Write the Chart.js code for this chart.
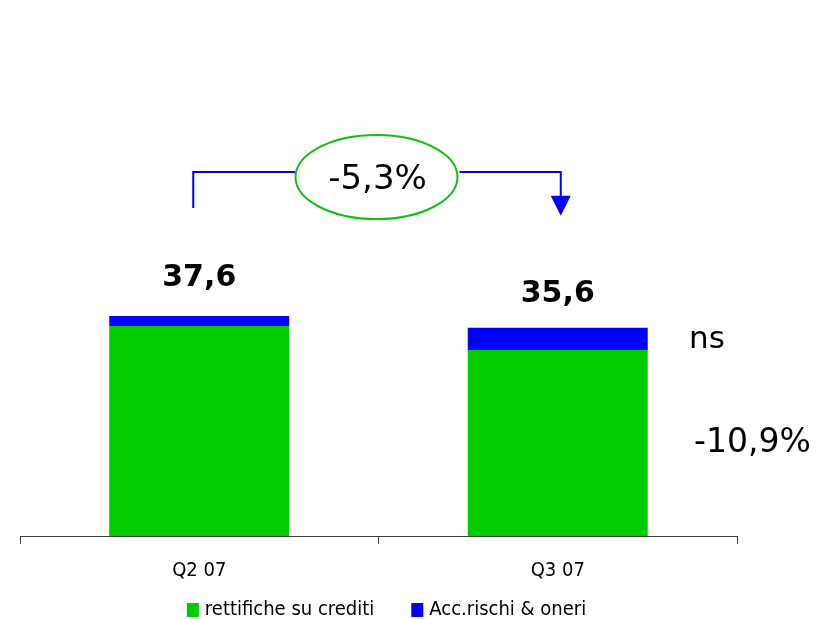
<!DOCTYPE html>
<html>
<head>
<meta charset="utf-8">
<script src="https://cdn.jsdelivr.net/npm/chart.js@4/dist/chart.umd.min.js"></script>
<style>
  html, body { margin: 0; padding: 0; background: #ffffff; }
  #wrap { width: 829px; height: 619px; }
</style>
</head>
<body>
<div id="wrap"><canvas id="c" width="829" height="619"></canvas></div>
<script>
const categories = ['Q2 07', 'Q3 07'];
const rettifiche = [35.9, 31.8];
const accRischi = [1.7, 3.8];
const totals = ['37,6', '35,6'];
const seriesNames = ['rettifiche su crediti', 'Acc.rischi & oneri'];
const changeTotal = '-5,3%';
const changeAcc = 'ns';
const changeRett = '-10,9%';

const GREEN = '#00cc00';
const BLUE = '#0000ff';
const COND = '"DejaVu Sans Condensed", "DejaVu Sans"';

const annot = {
  id: 'annot',
  afterDatasetsDraw(chart) {
    const ctx = chart.ctx;
    const xs = chart.scales.x, ys = chart.scales.y;
    const x0 = xs.getPixelForValue(0), x1 = xs.getPixelForValue(1);
    const top0 = ys.getPixelForValue(rettifiche[0] + accRischi[0]);
    const top1 = ys.getPixelForValue(rettifiche[1] + accRischi[1]);
    const g1 = ys.getPixelForValue(rettifiche[1]);
    const base = ys.getPixelForValue(0);
    ctx.save();
    ctx.fillStyle = '#000';
    ctx.textAlign = 'center';
    ctx.textBaseline = 'alphabetic';
    ctx.font = 'bold 30px "DejaVu Sans"';
    ctx.fillText(totals[0], x0, top0 - 30);
    ctx.fillText(totals[1], x1, top1 - 26);

    ctx.textAlign = 'left';
    ctx.textBaseline = 'middle';
    ctx.font = '31px "DejaVu Sans"';
    ctx.fillText(changeAcc, chart.chartArea.right - 48, (top1 + g1) / 2 + 1);
    ctx.font = '33px "DejaVu Sans"';
    ctx.fillText(changeRett, chart.chartArea.right - 43, (g1 + base) / 2);

    // bracket with arrow
    const yLine = top0 - 144;
    const mid = (x0 + x1) / 2;
    const ecx = mid - 2, ecy = yLine + 5, erx = 81, ery = 42;
    ctx.strokeStyle = BLUE;
    ctx.lineWidth = 2;
    ctx.beginPath();
    ctx.moveTo(x0 - 6, top0 - 108);
    ctx.lineTo(x0 - 6, yLine);
    ctx.lineTo(ecx - erx, yLine);
    ctx.moveTo(ecx + erx + 2, yLine);
    ctx.lineTo(x1 + 3, yLine);
    ctx.lineTo(x1 + 3, top1 - 128);
    ctx.stroke();
    ctx.fillStyle = BLUE;
    ctx.beginPath();
    ctx.moveTo(x1 + 3 - 10, top1 - 132);
    ctx.lineTo(x1 + 3 + 10, top1 - 132);
    ctx.lineTo(x1 + 3, top1 - 112);
    ctx.closePath();
    ctx.fill();

    ctx.strokeStyle = '#11c011';
    ctx.lineWidth = 2;
    ctx.beginPath();
    ctx.ellipse(ecx, ecy, erx, ery, 0, 0, Math.PI * 2);
    ctx.stroke();
    ctx.fillStyle = '#000';
    ctx.font = '34px "DejaVu Sans"';
    ctx.textAlign = 'center';
    ctx.textBaseline = 'middle';
    ctx.fillText(changeTotal, ecx + 1, ecy + 3);
    ctx.restore();
  },
  afterDraw(chart) {
    // legend drawn from dataset labels/colours
    const ctx = chart.ctx;
    ctx.save();
    ctx.font = '20px ' + COND;
    ctx.textBaseline = 'middle';
    ctx.textAlign = 'left';
    const boxW = 12, boxH = 14, gapBox = 6, gapItem = 37;
    const items = chart.data.datasets.map(d => ({ text: d.label, color: d.backgroundColor, w: ctx.measureText(d.label).width }));
    const total = items.reduce((s, it) => s + boxW + gapBox + it.w, 0) + gapItem * (items.length - 1);
    const cx = chart.chartArea.left + (chart.chartArea.right - chart.chartArea.left) / 2 + 8;
    let x = cx - total / 2;
    const yc = chart.height - 9;
    items.forEach(it => {
      ctx.fillStyle = it.color;
      ctx.fillRect(x, yc - boxH / 2, boxW, boxH);
      ctx.fillStyle = '#000';
      ctx.fillText(it.text, x + boxW + gapBox, yc);
      x += boxW + gapBox + it.w + gapItem;
    });
    ctx.restore();
  }
};

new Chart(document.getElementById('c'), {
  type: 'bar',
  data: {
    labels: categories,
    datasets: [
      { label: seriesNames[0], data: rettifiche, backgroundColor: GREEN, borderWidth: 0 },
      { label: seriesNames[1], data: accRischi, backgroundColor: BLUE, borderWidth: 0 }
    ]
  },
  options: {
    responsive: false,
    animation: false,
    layout: { padding: { left: 20, right: 92, top: 68, bottom: 21 } },
    datasets: { bar: { categoryPercentage: 1.0, barPercentage: 0.502 } },
    scales: {
      x: {
        stacked: true,
        border: { display: true, color: '#404040', width: 1 },
        grid: { display: true, drawOnChartArea: false, drawTicks: true, tickLength: 8, color: '#404040', offset: true },
        ticks: { color: '#000', padding: 15, font: { family: COND, size: 20 } }
      },
      y: { stacked: true, display: false, min: 0, max: 80 }
    },
    plugins: {
      legend: { display: false },
      tooltip: { enabled: false }
    }
  },
  plugins: [annot]
});
</script>
</body>
</html>
